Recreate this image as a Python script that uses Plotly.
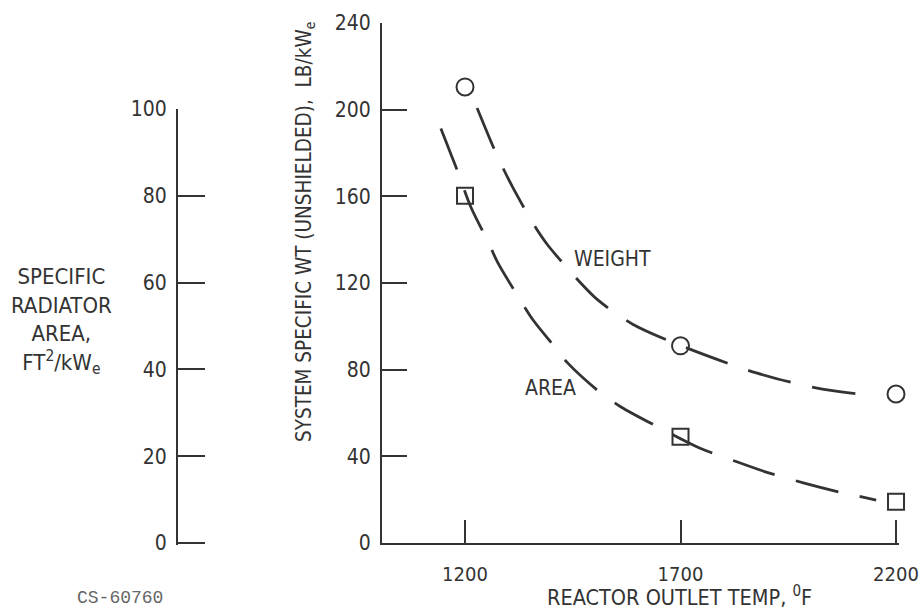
import plotly.graph_objects as go

# ---- data ----
temps = [1200, 1700, 2200]
weight_pts = [210.5, 91.0, 68.8]          # LB/kWe  (circles)
area_pts = [80.0, 24.5, 9.5]              # FT2/kWe (squares)

weight_curve_x = [1228, 1274, 1309, 1360, 1390, 1462, 1508, 1589, 1702, 1876, 2017, 2156]
weight_curve_y = [200.8, 179, 164.8, 146.8, 138, 121.4, 112.2, 101, 91, 78.5, 71.5, 67.8]
area_curve_x = [1144, 1181, 1214, 1253, 1276, 1325, 1357, 1408, 1438, 1512, 1561, 1656,
                1744, 1825, 1897, 1987, 2066, 2154]
area_curve_y = [95.5, 86.1, 77.3, 69.5, 64.6, 56.5, 51.5, 45.2, 41.5, 34.8, 31.4, 26.3,
                21.9, 18.9, 16.4, 13.8, 11.8, 9.9]

x_ticks = [1200, 1700, 2200]
wt_ticks = [0, 40, 80, 120, 160, 200, 240]
area_ticks = [0, 20, 40, 60, 80, 100]

W, H = 920, 611
INK = "#333333"
FONT = "Liberation Sans Narrow, DejaVu Sans Condensed, Arial Narrow, sans-serif"


def px(x):
    return x / W


def py(y):
    return (H - y) / H


fig = go.Figure()

dash = "44px,22px"
fig.add_trace(go.Scatter(x=weight_curve_x, y=weight_curve_y, mode="lines",
                         line=dict(color=INK, width=2.8, dash=dash, shape="spline", smoothing=0.8),
                         xaxis="x", yaxis="y", hoverinfo="skip"))
fig.add_trace(go.Scatter(x=area_curve_x, y=area_curve_y, mode="lines",
                         line=dict(color=INK, width=2.8, dash=dash, shape="spline", smoothing=0.8),
                         xaxis="x", yaxis="y2", hoverinfo="skip"))
fig.add_trace(go.Scatter(x=temps, y=weight_pts, mode="markers", cliponaxis=False,
                         marker=dict(symbol="circle-open", size=17, color=INK, line=dict(width=2, color=INK)),
                         xaxis="x", yaxis="y"))
fig.add_trace(go.Scatter(x=temps, y=area_pts, mode="markers", cliponaxis=False,
                         marker=dict(symbol="square-open", size=16, color=INK, line=dict(width=2, color=INK)),
                         xaxis="x", yaxis="y2"))

y0 = py(543)
axis_common = dict(showgrid=False, zeroline=False, showline=True, linecolor=INK, linewidth=2,
                   ticks="inside", tickcolor=INK, tickwidth=2, automargin=False)
tf = dict(family=FONT, size=21, color=INK)

fig.update_layout(
    width=W, height=H,
    margin=dict(l=0, r=0, t=0, b=0, pad=0, autoexpand=False),
    paper_bgcolor="white", plot_bgcolor="rgba(0,0,0,0)",
    showlegend=False,
    xaxis=dict(domain=[px(382), px(898.6)], range=[1007.4, 2206], anchor="y",
               tickvals=x_ticks, ticklen=23, ticklabelstandoff=12,
               tickfont=dict(family=FONT, size=20, color=INK), **axis_common),
    yaxis=dict(domain=[y0, py(23)], range=[0, 240], anchor="x",
               tickvals=wt_ticks, ticklen=25, ticklabelstandoff=5, tickfont=tf, **axis_common),
    yaxis2=dict(domain=[py(544.5), py(109)], range=[-0.35, 100], anchor="free", position=px(177),
                tickvals=area_ticks, ticklen=27, ticklabelstandoff=5, tickfont=tf, **axis_common),
)


def note(x, y, text, size, angle=0, family=FONT, color=INK, align="center"):
    fig.add_annotation(x=px(x), y=py(y), xref="paper", yref="paper", text=text,
                       textangle=angle, showarrow=False, xanchor="center", yanchor="middle",
                       align=align, font=dict(family=family, size=size, color=color))


note(305, 232, "SYSTEM SPECIFIC WT (UNSHIELDED),  LB/kW<sub>e</sub>", 20.5, angle=-90)
note(61, 321, "SPECIFIC<br>RADIATOR<br>AREA,<br>FT<sup>2</sup>/kW<sub>e</sub>", 22)
note(679, 596, "REACTOR OUTLET TEMP, <sup>0</sup>F", 21.5)
note(612, 259, "WEIGHT", 21)
note(550, 388, "AREA", 21)
note(120, 598, "CS-60760", 18, family="Liberation Mono, DejaVu Sans Mono, monospace", color="#666666")

fig.write_html("out.html")
